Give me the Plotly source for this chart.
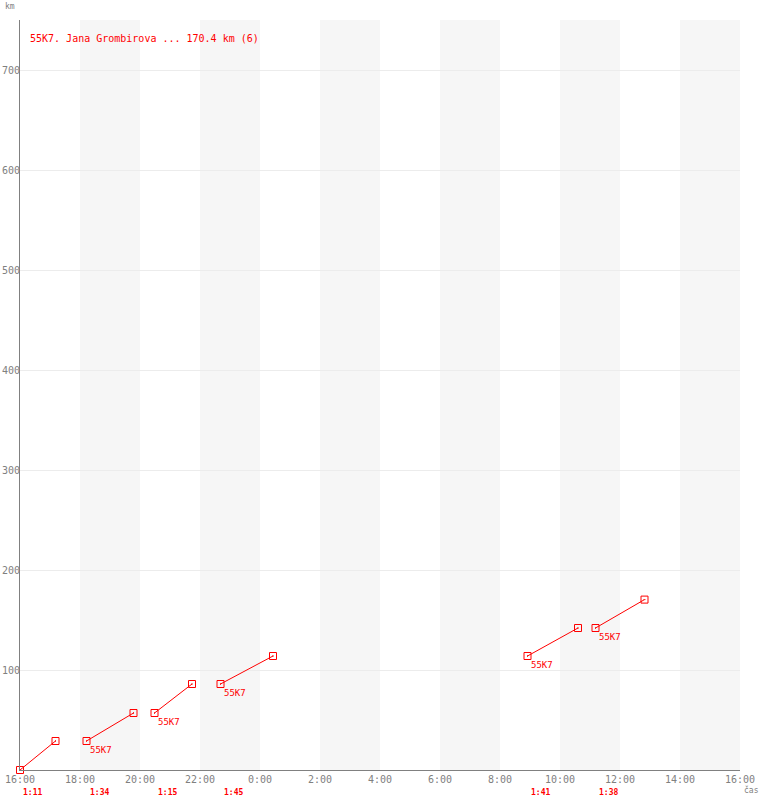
import plotly.graph_objects as go

# Data
start_times = ["2023-06-01 16:00", "2023-06-01 18:13", "2023-06-01 20:29",
               "2023-06-01 22:41", "2023-06-02 08:55", "2023-06-02 11:11"]
end_times = ["2023-06-01 17:11", "2023-06-01 19:47", "2023-06-01 21:44",
             "2023-06-02 00:26", "2023-06-02 10:36", "2023-06-02 12:49"]
start_km = [0, 29, 57, 86, 114, 142]
end_km = [29, 57, 86, 114, 142, 170.4]
durations = ["1:11", "1:34", "1:15", "1:45", "1:41", "1:38"]
seg_labels = ["", "55K7", "55K7", "55K7", "55K7", "55K7"]
title_text = "55K7. Jana Grombirova ... 170.4 km (6)"
band_starts = ["2023-06-01 18:00", "2023-06-01 22:00", "2023-06-02 02:00",
               "2023-06-02 06:00", "2023-06-02 10:00", "2023-06-02 14:00"]
band_ends = ["2023-06-01 20:00", "2023-06-02 00:00", "2023-06-02 04:00",
             "2023-06-02 08:00", "2023-06-02 12:00", "2023-06-02 16:00"]
y_ticks = [100, 200, 300, 400, 500, 600, 700]
x_range = ["2023-06-01 16:00", "2023-06-02 16:00"]

RED = "#ff0000"
GREY = "#808080"
FONT = "DejaVu Sans Mono"

fig = go.Figure()

for s, e, sk, ek in zip(start_times, end_times, start_km, end_km):
    fig.add_trace(go.Scatter(
        x=[s, e], y=[sk, ek], mode="lines+markers",
        line=dict(color=RED, width=1),
        marker=dict(symbol="square-open-dot", size=7, color=RED, line=dict(width=1, color=RED)),
        showlegend=False, hoverinfo="skip", cliponaxis=False))

shapes = []
for bs, be in zip(band_starts, band_ends):
    shapes.append(dict(type="rect", xref="x", yref="paper", x0=bs, x1=be, y0=0, y1=1,
                       fillcolor="#f6f6f6", line=dict(width=0), layer="below"))

annotations = []
for s, sk, lab in zip(start_times, start_km, seg_labels):
    if lab:
        annotations.append(dict(x=s, y=sk, xref="x", yref="y", text=lab, showarrow=False,
                                xanchor="left", yanchor="top", xshift=1, yshift=-2,
                                font=dict(family=FONT, size=9, color=RED)))
for s, d in zip(start_times, durations):
    annotations.append(dict(x=s, y=0, xref="x", yref="paper", text="<b>" + d + "</b>",
                            showarrow=False, xanchor="left", yanchor="middle",
                            xshift=1, yshift=-22,
                            font=dict(family=FONT, size=8, color=RED)))
annotations.append(dict(x=0, y=1, xref="paper", yref="paper", text=title_text,
                        showarrow=False, xanchor="left", yanchor="middle",
                        xshift=8, yshift=-18, font=dict(family=FONT, size=10, color=RED)))
annotations.append(dict(x=0, y=1, xref="paper", yref="paper", text="km",
                        showarrow=False, xanchor="left", yanchor="middle",
                        xshift=-17, yshift=14, font=dict(family=FONT, size=8, color=GREY)))
annotations.append(dict(x=1, y=0, xref="paper", yref="paper", text="čas",
                        showarrow=False, xanchor="center", yanchor="middle",
                        xshift=11, yshift=-20, font=dict(family=FONT, size=8, color=GREY)))

fig.update_layout(
    width=760, height=800,
    margin=dict(l=20, r=20, t=20, b=30),
    paper_bgcolor="white", plot_bgcolor="white",
    shapes=shapes, annotations=annotations,
    xaxis=dict(type="date", range=x_range, tickformat="%-H:%M", dtick=7200000,
               tick0="2023-06-01 16:00", showgrid=False, zeroline=False,
               showline=True, linecolor=GREY, linewidth=1, ticks="",
               tickfont=dict(family=FONT, size=10, color=GREY), automargin=False,
               fixedrange=True),
    yaxis=dict(range=[0, 750], tickvals=y_ticks, showgrid=True, gridcolor="#ececec",
               gridwidth=1, zeroline=False, showline=True, linecolor=GREY, linewidth=1,
               ticks="", ticklabelstandoff=-3,
               tickfont=dict(family=FONT, size=10, color=GREY), automargin=False,
               fixedrange=True),
)

fig.write_html("out.html", config={"displayModeBar": False},
               post_script="document.body.style.margin='0';document.body.style.overflow='hidden';")
